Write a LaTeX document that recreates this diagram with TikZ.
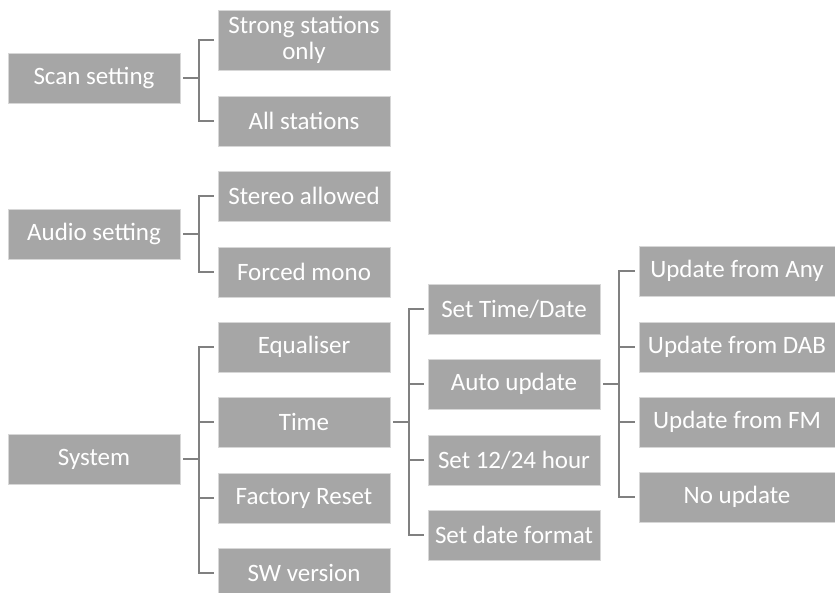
\documentclass[tikz,border=0pt]{standalone}
\usepackage{fontspec}
\setmainfont{Carlito}
\usepackage{tikz}
\usepackage{xcolor}
\usetikzlibrary{calc,positioning}
\definecolor{boxgray}{RGB}{166,166,166}
\definecolor{boxedge}{RGB}{215,215,215}
\definecolor{linegray}{RGB}{128,128,128}
\tikzset{
  menubox/.style={fill=boxgray, draw=boxedge, line width=0.8pt, text=white,
    minimum width=172pt, minimum height=50pt, inner sep=0pt, align=center,
    font=\fontsize{25}{29}\selectfont},
  widebox/.style={menubox, minimum width=196pt},
  link/.style={draw=linegray, line width=2pt}
}

\begin{document}
\begin{tikzpicture}[x=1pt, y=1pt]
  \useasboundingbox (0,0) rectangle (835,-593);

  % top level
  \node[menubox] (scan)   at (94,-78)  {Scan setting};
  \node[menubox] (audio)  at (94,-234) {Audio setting};
  \node[menubox] (system) at (94,-459) {System};

  % second level
  \node[menubox, minimum height=60pt] (strong) at (304,-40) {Strong stations\\[-3pt]only};
  \node[menubox] (allst)  at (304,-121) {All stations};
  \node[menubox] (stereo) at (304,-196) {Stereo allowed};
  \node[menubox] (mono)   at (304,-272) {Forced mono};
  \node[menubox] (equal)  at (304,-347) {Equaliser};
  \node[menubox] (time)   at (304,-422) {Time};
  \node[menubox] (reset)  at (304,-498) {Factory Reset};
  \node[menubox] (swver)  at (304,-573) {SW version};

  % time menu
  \node[menubox] (setdate) at (514,-309) {Set Time/Date};
  \node[menubox] (auto)    at (514,-384) {Auto update};
  \node[menubox] (hour)    at (514,-460) {Set 12/24 hour};
  \node[menubox] (format)  at (514,-535) {Set date format};

  % auto update menu
  \node[widebox] (any)  at (737,-271) {Update from Any};
  \node[widebox] (dab)  at (737,-347) {Update from DAB};
  \node[widebox] (fm)   at (737,-422) {Update from FM};
  \node[widebox] (none) at (737,-497) {No update};

  % connectors
  \foreach \parent/\kids in {scan/{strong,allst}, audio/{stereo,mono},
      system/{equal,time,reset,swver}, time/{setdate,auto,hour,format},
      auto/{any,dab,fm,none}}
    \foreach \kid in \kids
      \draw[link] ([xshift=3pt]\parent.east) -- ++(16,0) |- ([xshift=-4pt]\kid.west);
\end{tikzpicture}
\end{document}
